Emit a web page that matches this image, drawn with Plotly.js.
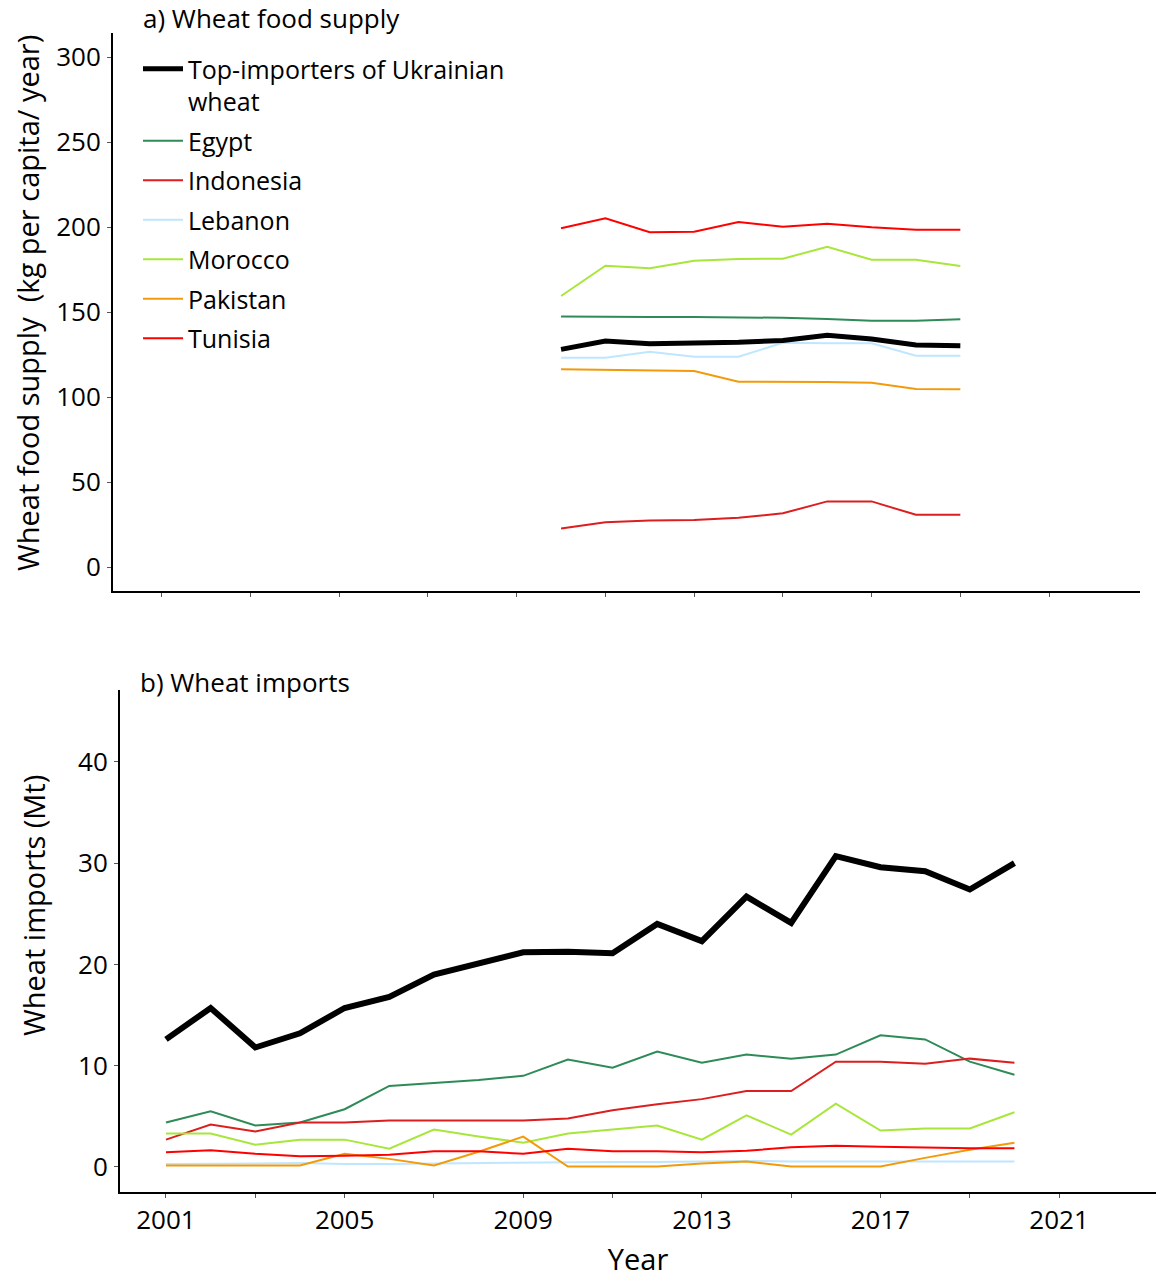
<!DOCTYPE html>
<html>
<head>
<meta charset="utf-8">
<script src="https://cdn.plot.ly/plotly-3.0.1.min.js"></script>
<style>html,body{margin:0;padding:0;background:#fff;}#chart{width:1156px;height:1278px;}</style>
</head>
<body>
<div id="chart"></div>
<script>
// ---- Data: a) Wheat food supply (kg per capita / year) ----
const supplyYears = [2010, 2011, 2012, 2013, 2014, 2015, 2016, 2017, 2018, 2019];
const supplyTop = [128.2, 133.1, 131.5, 131.9, 132.4, 133.5, 136.5, 134.3, 130.8, 130.4];
const supplyEgypt = [147.6, 147.2, 147.2, 147.2, 147.0, 146.8, 146.1, 145.1, 145.1, 145.9];
const supplyIndonesia = [22.9, 26.6, 27.6, 27.8, 29.2, 31.8, 38.8, 38.8, 30.9, 30.9];
const supplyLebanon = [123.3, 123.3, 126.8, 123.9, 123.9, 132.1, 131.8, 131.8, 124.5, 124.5];
const supplyMorocco = [159.6, 177.4, 175.9, 180.4, 181.4, 181.5, 188.6, 180.9, 180.9, 177.2];
const supplyPakistan = [116.6, 116.1, 115.6, 115.5, 109.2, 109.2, 109.0, 108.6, 104.9, 104.7];
const supplyTunisia = [199.4, 205.3, 197.1, 197.4, 203.1, 200.4, 202.1, 200.0, 198.6, 198.6];

// ---- Data: b) Wheat imports (Mt) ----
const importYears = [2001, 2002, 2003, 2004, 2005, 2006, 2007, 2008, 2009, 2010,
                     2011, 2012, 2013, 2014, 2015, 2016, 2017, 2018, 2019, 2020];
const importTop = [12.6, 15.7, 11.8, 13.2, 15.7, 16.8, 19.0, 20.1, 21.2, 21.25,
                   21.1, 24.0, 22.3, 26.7, 24.1, 30.7, 29.6, 29.2, 27.4, 30.0];
const importEgypt = [4.4, 5.5, 4.1, 4.4, 5.7, 8.0, 8.3, 8.6, 9.0, 10.6,
                     9.8, 11.4, 10.3, 11.1, 10.7, 11.1, 13.0, 12.6, 10.4, 9.1];
const importIndonesia = [2.7, 4.2, 3.5, 4.4, 4.4, 4.6, 4.6, 4.6, 4.6, 4.8,
                         5.6, 6.2, 6.7, 7.5, 7.5, 10.4, 10.4, 10.2, 10.7, 10.3];
const importLebanon = [0.3, 0.3, 0.35, 0.4, 0.3, 0.3, 0.35, 0.4, 0.45, 0.5,
                       0.5, 0.5, 0.55, 0.6, 0.55, 0.55, 0.55, 0.55, 0.55, 0.55];
const importMorocco = [3.3, 3.3, 2.2, 2.7, 2.7, 1.8, 3.7, 3.0, 2.4, 3.3,
                       3.7, 4.1, 2.7, 5.1, 3.2, 6.25, 3.6, 3.8, 3.8, 5.4];
const importPakistan = [0.15, 0.15, 0.15, 0.15, 1.3, 0.8, 0.15, 1.5, 3.0, 0.05,
                        0.05, 0.05, 0.35, 0.55, 0.05, 0.05, 0.05, 0.9, 1.7, 2.4];
const importTunisia = [1.45, 1.65, 1.3, 1.05, 1.1, 1.2, 1.55, 1.55, 1.3, 1.8,
                       1.55, 1.55, 1.45, 1.6, 1.95, 2.1, 2.0, 1.9, 1.85, 1.85];

// ---- Labels ----
const seriesNames = ['Top-importers of Ukrainian<br>wheat', 'Egypt', 'Indonesia', 'Lebanon', 'Morocco', 'Pakistan', 'Tunisia'];
const tickYears = [2001, 2003, 2005, 2007, 2009, 2011, 2013, 2015, 2017, 2019, 2021];
const tickYearLabels = ['2001', '', '2005', '', '2009', '', '2013', '', '2017', '', '2021'];
const supplyTicks = [0, 50, 100, 150, 200, 250, 300];
const importTicks = [0, 10, 20, 30, 40];

const colors = ['#000000', '#2e8b57', '#dc1e1e', '#bfe6ff', '#a8e63a', '#f39a0a', '#ff0000'];
const FONT = '"Open Sans", Lato, sans-serif';

const supplySeries = [supplyTop, supplyEgypt, supplyIndonesia, supplyLebanon, supplyMorocco, supplyPakistan, supplyTunisia];
const importSeries = [importTop, importEgypt, importIndonesia, importLebanon, importMorocco, importPakistan, importTunisia];

const traces = [];
// coloured lines first, black line last (drawn on top); legend order via legendrank
for (let k = 1; k <= 7; k++) {
  const i = k % 7;
  traces.push({
    x: supplyYears, y: supplySeries[i], type: 'scatter', mode: 'lines',
    name: seriesNames[i], legendgroup: 'g' + i, legendrank: i + 1,
    line: {color: colors[i], width: i === 0 ? 5 : 2},
    xaxis: 'x', yaxis: 'y', hoverinfo: 'x+y+name'
  });
}
for (let k = 1; k <= 7; k++) {
  const i = k % 7;
  traces.push({
    x: importYears, y: importSeries[i], type: 'scatter', mode: 'lines',
    name: seriesNames[i], legendgroup: 'g' + i, showlegend: false,
    line: {color: colors[i], width: i === 0 ? 6 : 2},
    xaxis: 'x2', yaxis: 'y2', hoverinfo: 'x+y+name'
  });
}

const W = 1156, H = 1278;
const px = v => v / W;
const py = v => 1 - v / H;

const axisCommon = {
  showline: true, linecolor: '#000', linewidth: 2, mirror: false,
  showgrid: false, zeroline: false,
  ticks: 'outside', ticklen: 4, tickwidth: 1, tickcolor: '#555',
  tickfont: {family: FONT, size: 26, color: '#000'}
};

const layout = {
  width: W, height: H,
  margin: {l: 0, r: 0, t: 0, b: 0},
  paper_bgcolor: '#fff', plot_bgcolor: '#fff',
  font: {family: FONT, color: '#000'},
  showlegend: true,
  legend: {
    x: px(138), y: py(46), xanchor: 'left', yanchor: 'top',
    xref: 'paper', yref: 'paper',
    bgcolor: 'rgba(0,0,0,0)', borderwidth: 0,
    font: {family: FONT, size: 25, color: '#000'},
    traceorder: 'grouped', tracegroupgap: 4, valign: 'top',
    itemwidth: 40
  },
  xaxis: Object.assign({}, axisCommon, {
    domain: [px(113), px(1140)], anchor: 'y',
    range: [1999.9, 2023.05],
    tickmode: 'array', tickvals: tickYears, showticklabels: false
  }),
  yaxis: Object.assign({}, axisCommon, {
    domain: [py(591), py(33)], anchor: 'x',
    range: [-13.9, 314.3],
    tickmode: 'array', tickvals: supplyTicks,
    ticklabelstandoff: 1
  }),
  xaxis2: Object.assign({}, axisCommon, {
    domain: [px(120), 1], anchor: 'y2',
    range: [1999.97, 2023.17],
    tickmode: 'array', tickvals: tickYears, ticktext: tickYearLabels,
    ticklabelstandoff: 0,
    title: {text: 'Year', font: {family: FONT, size: 29, color: '#000'}, standoff: 18}
  }),
  yaxis2: Object.assign({}, axisCommon, {
    domain: [py(1192), py(690)], anchor: 'x2',
    range: [-2.47, 47.1],
    tickmode: 'array', tickvals: importTicks,
    ticklabelstandoff: 1
  }),
  annotations: [
    {text: 'a) Wheat food supply', xref: 'paper', yref: 'paper', x: px(141), y: py(18),
     xanchor: 'left', yanchor: 'middle', showarrow: false,
     font: {family: FONT, size: 26, color: '#000'}},
    {text: 'b) Wheat imports', xref: 'paper', yref: 'paper', x: px(138), y: py(682),
     xanchor: 'left', yanchor: 'middle', showarrow: false,
     font: {family: FONT, size: 26, color: '#000'}},
    {text: 'Wheat food supply  (kg per capita/ year)', xref: 'paper', yref: 'paper',
     x: px(27), y: py(303), xanchor: 'center', yanchor: 'middle', textangle: -90, showarrow: false,
     font: {family: FONT, size: 29, color: '#000'}},
    {text: 'Wheat imports (Mt)', xref: 'paper', yref: 'paper',
     x: px(33), y: py(906), xanchor: 'center', yanchor: 'middle', textangle: -90, showarrow: false,
     font: {family: FONT, size: 29, color: '#000'}}
  ]
};

Plotly.newPlot('chart', traces, layout, {displayModeBar: false, staticPlot: true});
</script>
</body>
</html>
